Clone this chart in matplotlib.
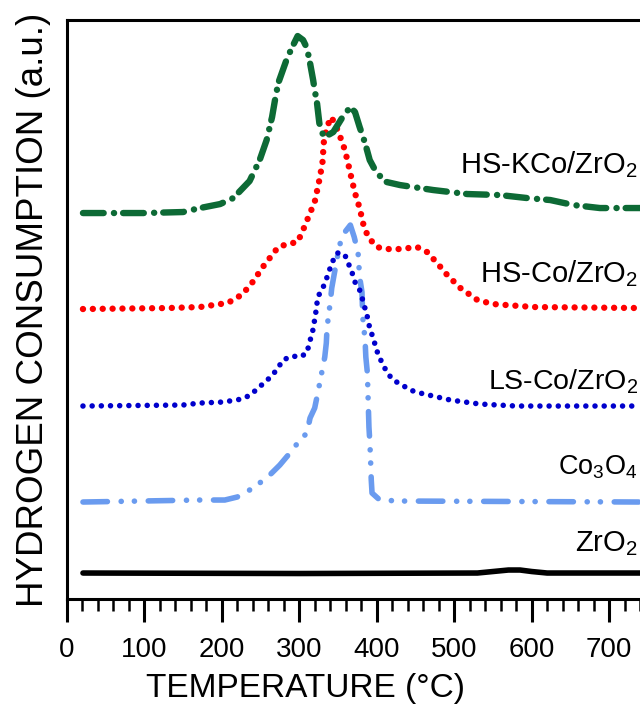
import matplotlib
matplotlib.use('Agg')
import matplotlib.pyplot as plt

plt.rcParams['font.family'] = ['Liberation Sans', 'DejaVu Sans']
plt.rcParams['mathtext.default'] = 'regular'
plt.rcParams['lines.scale_dashes'] = False

# TPR profiles, temperature (C) and signal (a.u., stacked offsets)
t_hskco = [21, 100, 150, 172, 198, 215, 236, 249, 258, 265, 269, 273, 284, 291, 298, 305, 310, 314, 318, 320,
           323, 326, 329, 333, 344, 356, 366, 372, 378, 385, 391, 400, 413, 430, 447, 473, 517, 559, 594, 624,
           654, 688, 740]
y_hskco = [386, 386, 387, 391, 395, 401, 418, 439, 459, 482, 500, 516, 540, 552, 563, 559, 551, 536, 519, 509,
           496, 476, 467, 462, 467, 482, 492, 487, 472, 456, 439, 426, 417, 414, 412, 409, 405, 404, 401, 399,
           394, 391, 391]

t_hsco = [21, 130, 172, 207, 215, 227, 241, 253, 265, 273, 285, 298, 305, 314, 320, 326, 330, 332, 336, 341,
          346, 353, 359, 363, 368, 372, 378, 383, 389, 400, 413, 430, 452, 465, 478, 491, 508, 530, 550, 602, 740]
y_hsco = [290, 291, 292, 296, 299, 305, 318, 332, 344, 352, 355, 357, 369, 386, 397, 419, 436, 459, 472, 482,
          476, 462, 449, 436, 419, 406, 391, 374, 362, 352, 350, 350, 352, 347, 336, 324, 311, 299, 295, 292, 291]

t_lsco = [21, 150, 172, 202, 226, 237, 247, 259, 271, 279, 291, 301, 310, 313, 317, 321, 324, 331, 337, 342,
          349, 355, 359, 368, 372, 378, 382, 388, 391, 395, 402, 413, 421, 433, 443, 456, 495, 533, 580, 740]
y_lsco = [193, 194, 196, 197, 200, 204, 211, 219, 229, 239, 243, 242, 246, 256, 266, 284, 302, 312, 324, 336,
          346, 346, 344, 327, 317, 309, 299, 282, 271, 262, 244, 227, 219, 214, 209, 206, 199, 195, 193, 193]

t_co3o4 = [21, 172, 204, 220, 236, 249, 262, 275, 288, 301, 310, 314, 320, 324, 329, 333, 335, 336, 340, 342,
           345, 349, 353, 356, 366, 371, 376, 378, 381, 382, 385, 386, 388, 389, 390, 391, 392, 393, 394, 404,
           430, 740]
y_co3o4 = [97, 99, 99, 102, 109, 116, 124, 134, 146, 159, 166, 181, 191, 206, 226, 242, 256, 272, 296, 311,
           324, 341, 356, 364, 374, 362, 346, 322, 307, 282, 259, 242, 226, 199, 172, 159, 142, 119, 106, 99,
           98, 97]

t_zro2 = [21, 300, 530, 550, 570, 585, 600, 620, 740]
y_zro2 = [26, 25.5, 26, 27.5, 29, 29, 27.5, 26, 26]

labels = ['HS-KCo/ZrO$_2$', 'HS-Co/ZrO$_2$', 'LS-Co/ZrO$_2$', 'Co$_3$O$_4$', 'ZrO$_2$']
label_y = [426, 317, 210, 125, 48]

fig = plt.figure(figsize=(6.4, 7.11), dpi=100)
ax = fig.add_axes([0.1042, 0.1575, 0.96875, 0.815])

ax.plot(t_zro2, y_zro2, color='black', lw=4, solid_capstyle='round')
ax.plot(t_co3o4, y_co3o4, color='#6a9bef', lw=4, dash_capstyle='round',
        dashes=[17.6, 9.9, 0.1, 9.4, 0.1, 9.9])
ax.plot(t_lsco, y_lsco, color='#0000cc', lw=4, dash_capstyle='round', dashes=[0.01, 6.6])
ax.plot(t_hsco, y_hsco, color='#ff0000', lw=4.6, dash_capstyle='round', dashes=[0.01, 7.1])
ax.plot(t_hskco, y_hskco, color='#0d6a35', lw=4.6, dash_capstyle='round',
        dashes=[14.9, 7.4, 0.1, 6.5])

for lab, yy, fs in zip(labels, label_y, [21, 21, 20.5, 19.5, 21]):
    ax.text(737, yy, lab, ha='right', va='baseline', fontsize=fs)

ax.set_xlim(0, 800)
ax.set_ylim(0, 579.5)
ax.set_xticks(range(0, 701, 100))
ax.set_xticks([v for v in range(0, 801, 20) if v % 100], minor=True)
ax.set_yticks([])
ax.tick_params(axis='x', which='major', direction='out', length=16.5, width=2.2, labelsize=20, pad=11)
ax.tick_params(axis='x', which='minor', direction='out', length=8.6, width=1.8)
for s in ax.spines.values():
    s.set_linewidth(2.2)

fig.text(34 / 640, 1 - 310 / 711, 'HYDROGEN CONSUMPTION (a.u.)', rotation=90,
         ha='center', va='center', fontsize=26.5)
fig.text(306 / 640, 1 - 688 / 711, 'TEMPERATURE (°C)', ha='center', va='center', fontsize=24)

fig.savefig('out.png', dpi=100)
